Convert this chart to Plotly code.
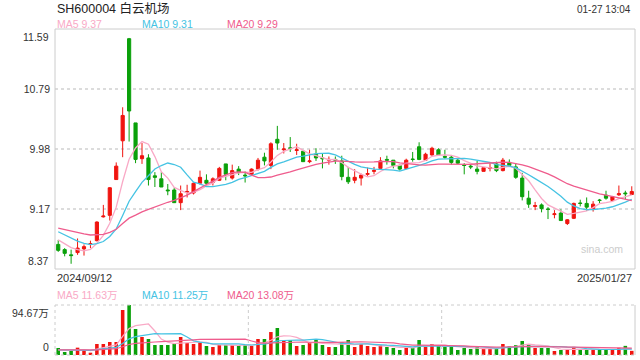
import numpy as np
import pandas as pd
import plotly.graph_objects as go

title_text = "SH600004 白云机场"
stamp_text = "01-27 13:04"

holidays = ["2024-09-16", "2024-09-17", "2024-10-01", "2024-10-02", "2024-10-03",
            "2024-10-04", "2024-10-07", "2025-01-01"]
dates = pd.bdate_range("2024-09-12", "2025-01-27", freq="C", holidays=holidays)
date_labels = [d.strftime("%Y/%m/%d") for d in dates]

opens = [8.70, 8.63, 8.56, 8.59, 8.64, 8.70, 8.75, 9.07, 9.09, 9.57,
         10.09, 11.46, 10.33, 9.85, 9.86, 9.62, 9.58, 9.43, 9.43, 9.26,
         9.40, 9.39, 9.52, 9.56, 9.53, 9.56, 9.78, 9.59, 9.71, 9.63,
         9.64, 9.71, 9.87, 9.76, 10.11, 9.97, 9.995, 9.96, 9.95, 9.81,
         9.91, 9.86, 9.83, 9.84, 9.82, 9.60, 9.56, 9.59, 9.64, 9.68,
         9.72, 9.84, 9.83, 9.76, 9.72, 9.845, 10.01, 9.83, 9.90, 9.97,
         9.88, 9.87, 9.83, 9.765, 9.75, 9.71, 9.68, 9.72, 9.78, 9.69,
         9.80, 9.74, 9.59, 9.32, 9.21, 9.23, 9.175, 9.10, 9.12, 8.98,
         9.05, 9.255, 9.25, 9.18, 9.295, 9.36, 9.29, 9.365, 9.39, 9.37]
highs = [8.76, 8.65, 8.63, 8.78, 8.70, 8.75, 9.01, 9.23, 9.47, 9.80,
         10.54, 11.47, 10.33, 10.06, 9.91, 9.67, 9.67, 9.51, 9.46, 9.49,
         9.50, 9.53, 9.69, 9.64, 9.60, 9.74, 9.78, 9.77, 9.75, 9.68,
         9.72, 9.86, 9.93, 10.07, 10.29, 10.06, 10.14, 10.05, 9.95, 9.97,
         9.99, 9.92, 9.88, 9.88, 9.89, 9.74, 9.71, 9.65, 9.73, 9.74,
         9.87, 9.89, 9.83, 9.77, 9.85, 9.94, 10.07, 9.93, 10.01, 9.99,
         9.97, 9.90, 9.86, 9.79, 9.78, 9.82, 9.73, 9.79, 9.81, 9.86,
         9.84, 9.79, 9.66, 9.42, 9.27, 9.25, 9.20, 9.16, 9.17, 9.04,
         9.26, 9.30, 9.33, 9.28, 9.31, 9.42, 9.35, 9.49, 9.42, 9.48]
lows = [8.60, 8.54, 8.44, 8.56, 8.55, 8.65, 8.74, 9.06, 9.02, 9.57,
        9.87, 10.08, 9.79, 9.78, 9.49, 9.47, 9.47, 9.36, 9.26, 9.16,
        9.33, 9.37, 9.50, 9.47, 9.49, 9.55, 9.56, 9.57, 9.63, 9.53,
        9.63, 9.69, 9.76, 9.71, 9.97, 9.92, 9.94, 9.90, 9.81, 9.79,
        9.82, 9.72, 9.77, 9.78, 9.56, 9.51, 9.52, 9.49, 9.62, 9.64,
        9.71, 9.77, 9.72, 9.69, 9.71, 9.81, 9.83, 9.82, 9.89, 9.89,
        9.85, 9.77, 9.78, 9.64, 9.71, 9.64, 9.68, 9.68, 9.67, 9.68,
        9.76, 9.58, 9.29, 9.19, 9.16, 9.13, 9.04, 9.05, 9.02, 8.96,
        9.04, 9.21, 9.15, 9.14, 9.25, 9.30, 9.27, 9.35, 9.31, 9.37]
closes = [8.62, 8.58, 8.55, 8.65, 8.67, 8.71, 9.00, 9.08, 9.46, 9.75,
          10.43, 10.49, 9.84, 9.89, 9.57, 9.60, 9.47, 9.42, 9.26, 9.38,
          9.41, 9.52, 9.60, 9.52, 9.58, 9.72, 9.64, 9.69, 9.67, 9.62,
          9.71, 9.83, 9.82, 10.05, 10.06, 9.98, 9.99, 9.97, 9.81, 9.82,
          9.86, 9.85, 9.84, 9.83, 9.61, 9.54, 9.60, 9.63, 9.65, 9.69,
          9.82, 9.83, 9.76, 9.71, 9.83, 9.84, 9.84, 9.91, 9.99, 9.90,
          9.87, 9.80, 9.79, 9.76, 9.74, 9.68, 9.73, 9.73, 9.69, 9.83,
          9.76, 9.60, 9.34, 9.24, 9.22, 9.18, 9.17, 9.11, 9.02, 9.03,
          9.25, 9.25, 9.20, 9.24, 9.29, 9.32, 9.34, 9.38, 9.38, 9.41]
# volume in 万 (10k shares)
volumes = [13.3, 5.7, 7.6, 13.9, 9.5, 4.4, 20.8, 20.8, 24.6, 24.6,
           85.2, 94.67, 49.2, 34.1, 30.3, 18.9, 18.9, 18.9, 20.8, 34.1,
           22.7, 20.8, 24.6, 17.0, 15.1, 18.9, 18.9, 18.9, 18.9, 18.9,
           17.0, 30.3, 30.3, 43.5, 51.1, 26.5, 28.4, 17.0, 18.9, 24.6,
           30.3, 18.9, 15.1, 15.1, 24.6, 28.4, 15.1, 20.8, 17.0, 15.1,
           18.9, 15.1, 13.3, 9.5, 17.0, 13.3, 28.4, 15.1, 20.8, 17.0,
           15.1, 15.1, 9.5, 13.3, 11.4, 15.1, 11.4, 11.4, 11.4, 20.8,
           16.7, 18.6, 26.5, 20.8, 13.3, 13.3, 13.3, 7.6, 9.5, 9.5,
           15.4, 9.8, 9.8, 9.8, 9.55, 9.9, 9.5, 13.6, 17.3, 7.85]
# values before the visible window (needed only for the moving averages)
prior_closes = [9.00, 8.98, 9.02, 9.05, 8.99, 8.96, 8.95, 8.93, 8.90, 8.92,
                9.02, 9.05, 8.98, 8.95, 8.90, 8.85, 8.80, 8.78, 8.75]
prior_volumes = [10, 9, 11, 12, 9, 10, 8, 9, 11, 10, 9, 8, 10, 12, 9, 8, 9, 10, 8]

y_tick_labels = ["9.17", "9.98", "10.79"]
price_min, price_max = 8.37, 11.59

UP = "#f0140f"
DOWN = "#0aa00a"
C5, C10, C20 = "#f9a9c6", "#45c3e3", "#ef5c8d"
FONT = "Liberation Sans, Arial, Noto Sans CJK SC, sans-serif"

n = len(closes)
xs = date_labels[:n]
all_c = pd.Series(prior_closes + closes)
all_v = pd.Series(prior_volumes + volumes)
k = len(prior_closes)
ma = {p: all_c.rolling(p).mean().iloc[k:].tolist() for p in (5, 10, 20)}
vma = {p: all_v.rolling(p).mean().iloc[k:].tolist() for p in (5, 10, 20)}

W, H = 640, 360
L, R = 55, 635
MT, MB = 29, 269
VT, VB = 305, 355
px = lambda v: v / W
py = lambda v: 1 - v / H

fig = go.Figure()
fig.add_trace(go.Candlestick(
    x=xs, open=opens, high=highs, low=lows, close=closes,
    increasing=dict(line=dict(color=UP, width=1), fillcolor=UP),
    decreasing=dict(line=dict(color=DOWN, width=1), fillcolor=DOWN),
    whiskerwidth=0, xaxis="x", yaxis="y", showlegend=False, hoverinfo="skip"))
for p, c in ((5, C5), (10, C10), (20, C20)):
    fig.add_trace(go.Scatter(x=xs, y=ma[p], mode="lines", line=dict(color=c, width=1.3),
                             xaxis="x", yaxis="y", showlegend=False, hoverinfo="skip"))

vcolors = [UP if c >= o else DOWN for o, c in zip(opens, closes)]
fig.add_trace(go.Bar(x=xs, y=volumes, marker=dict(color=vcolors, line=dict(width=0)),
                     width=0.55, xaxis="x2", yaxis="y2", showlegend=False, hoverinfo="skip"))
for p, c in ((5, C5), (10, C10), (20, C20)):
    fig.add_trace(go.Scatter(x=xs, y=vma[p], mode="lines", line=dict(color=c, width=1.2),
                             xaxis="x2", yaxis="y2", showlegend=False, hoverinfo="skip"))

vmax = max(volumes)
tickvals = list(np.linspace(price_min, price_max, 5)[1:4])

fig.update_layout(
    width=W, height=H, margin=dict(l=0, r=0, t=0, b=0),
    paper_bgcolor="white", plot_bgcolor="white",
    font=dict(family=FONT, color="#333"),
    xaxis=dict(domain=[px(L), px(R)], type="category", range=[-0.5, n - 0.5],
               showticklabels=False, showgrid=False, zeroline=False,
               rangeslider=dict(visible=False), anchor="y", fixedrange=True),
    yaxis=dict(domain=[py(MB), py(MT)], range=[price_min, price_max],
               tickvals=tickvals, ticktext=y_tick_labels, ticks="",
               tickfont=dict(size=10.5, color="#333"),
               showgrid=True, gridcolor="#dcdcdc", gridwidth=1.5, griddash="dot",
               zeroline=False, anchor="x", ticklabelstandoff=4),
    xaxis2=dict(domain=[px(L), px(R)], type="category", range=[-0.5, n - 0.5],
                showticklabels=False, showgrid=False, zeroline=False, anchor="y2"),
    yaxis2=dict(domain=[py(VB), py(VT)], range=[0, vmax], showticklabels=False,
                showgrid=False, zeroline=False, anchor="x2"),
    bargap=0.4,
)

shapes = []
shapes.append(dict(type="rect", xref="paper", yref="paper", x0=px(L), x1=px(R),
                   y0=py(MB), y1=py(MT), line=dict(color="#cccccc", width=1)))
dot = dict(color="#cccccc", width=1, dash="dot")
shapes.append(dict(type="line", xref="paper", yref="paper", x0=px(L), x1=px(R), y0=py(VT), y1=py(VT), line=dot))
shapes.append(dict(type="line", xref="paper", yref="paper", x0=px(L), x1=px(R), y0=py(VB), y1=py(VB), line=dot))
shapes.append(dict(type="line", xref="paper", yref="paper", x0=px(L), x1=px(L), y0=py(VB), y1=py(VT), line=dot))
shapes.append(dict(type="line", xref="paper", yref="paper", x0=px(R), x1=px(R), y0=py(VB), y1=py(VT),
                   line=dict(color="#cccccc", width=1)))
for b in (30, 60):
    shapes.append(dict(type="line", xref="x2", yref="paper", x0=b - 0.5, x1=b - 0.5,
                       y0=py(VB), y1=py(VT), line=dot))
fig.update_layout(shapes=shapes)

ann = []
def text(x, y, s, size, color="#333", xa="left", ya="middle"):
    ann.append(dict(xref="paper", yref="paper", x=px(x), y=py(y), text=s, showarrow=False,
                    xanchor=xa, yanchor=ya, font=dict(size=size, color=color, family=FONT)))

text(55, 8, title_text, 12.5, "#222")
text(633, 9, stamp_text, 10, "#333", xa="right")
text(55, 24, f"MA5 {ma[5][-1]:.2f}", 10.5, C5)
text(140, 24, f"MA10 {ma[10][-1]:.2f}", 10.5, C10)
text(225, 24, f"MA20 {ma[20][-1]:.2f}", 10.5, C20)
text(51, MT, f"{price_max:.2f}", 10.5, xa="right", ya="top")
text(51, MB, f"{price_min:.2f}", 10.5, xa="right", ya="bottom")
text(55, 278, date_labels[0], 11)
text(634, 278, date_labels[n - 1], 11, xa="right")
text(602, 249, "sina.com", 10.5, "#cccccc", xa="center")
text(55, 295, f"MA5 {vma[5][-1]:.2f}万", 10.5, C5)
text(140, 295, f"MA10 {vma[10][-1]:.2f}万", 10.5, C10)
text(225, 295, f"MA20 {vma[20][-1]:.2f}万", 10.5, C20)
text(51, VT, f"{vmax:.2f}万", 10.5, xa="right", ya="top")
text(51, VB, "0", 10.5, xa="right", ya="bottom")
fig.update_layout(annotations=ann)

fig.write_html("out.html", config=dict(displayModeBar=False))
